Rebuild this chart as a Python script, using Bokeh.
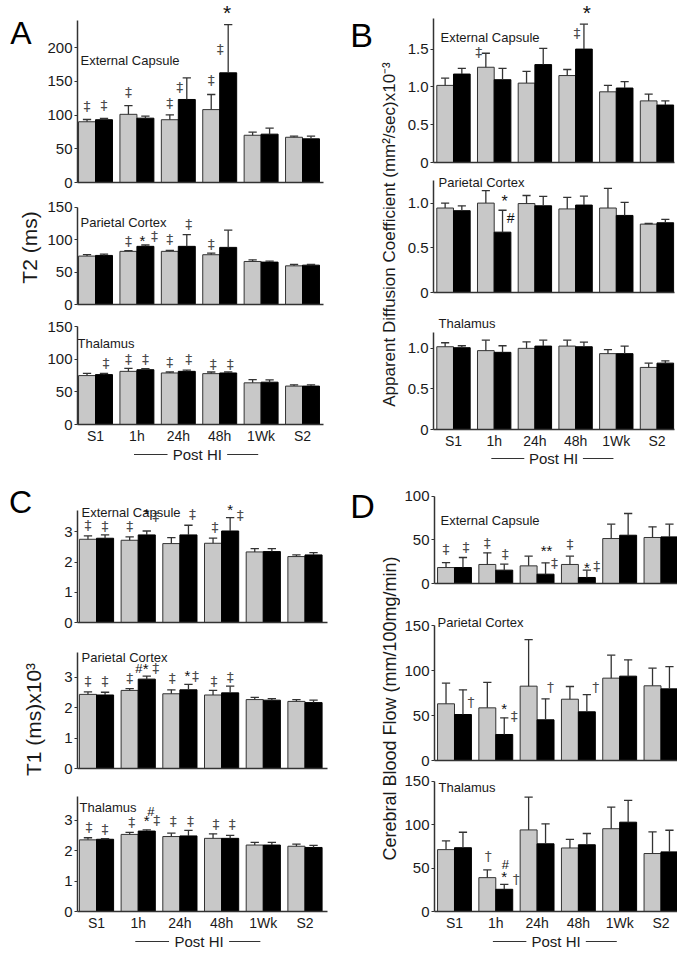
import math
from bokeh.plotting import figure
from bokeh.layouts import row, column
from bokeh.models import Range1d, FixedTicker, ColumnDataSource
from bokeh.core.properties import value, field
from bokeh.embed import file_html
from bokeh.resources import INLINE

FONT = "Liberation Sans"

groups = ["S1", "1h", "24h", "48h", "1Wk", "S2"]
post_label = "Post HI"
post_span = ("1h", "1Wk")
regions = ["External Capsule", "Parietal Cortex", "Thalamus"]

# ---------------- Panel A : T2 (ms) ----------------
a_ec_grey = [90, 101, 93, 108, 70, 67]
a_ec_grey_err = [3.3, 13, 7.2, 22.4, 4.6, 1.6]
a_ec_black = [93, 95.3, 123, 162.5, 71.6, 64.7]
a_ec_black_err = [1.8, 3, 32, 71.5, 8.9, 3.9]

a_pc_grey = [74.6, 81.9, 81.9, 76.7, 66.3, 59.6]
a_pc_grey_err = [2.1, 1.1, 1.5, 2.6, 2.6, 2.1]
a_pc_black = [75.6, 89.6, 89.6, 88, 65.3, 60.6]
a_pc_black_err = [2.1, 2.1, 18.2, 26.5, 1.5, 1.1]

a_th_grey = [74.9, 81.4, 78.9, 77.9, 63.8, 58.8]
a_th_grey_err = [3.5, 4.5, 1.5, 2.5, 5, 2]
a_th_black = [76.4, 83.9, 81.4, 78.9, 64.8, 58.8]
a_th_black_err = [2, 1.5, 2, 1.5, 3.5, 2]

# ---------------- Panel B : ADC ----------------
b_ec_grey = [1.02, 1.26, 1.05, 1.15, 0.935, 0.815]
b_ec_grey_err = [0.095, 0.185, 0.155, 0.08, 0.085, 0.09]
b_ec_black = [1.17, 1.095, 1.295, 1.50, 0.985, 0.76]
b_ec_black_err = [0.075, 0.15, 0.215, 0.33, 0.085, 0.055]

b_pc_grey = [0.945, 1.0, 0.995, 0.935, 0.945, 0.765]
b_pc_grey_err = [0.055, 0.14, 0.09, 0.13, 0.22, 0.007]
b_pc_black = [0.915, 0.675, 0.97, 0.978, 0.862, 0.78]
b_pc_black_err = [0.055, 0.245, 0.105, 0.1, 0.145, 0.037]

b_th_grey = [1.02, 0.972, 1.0, 1.028, 0.935, 0.765]
b_th_grey_err = [0.049, 0.129, 0.081, 0.073, 0.049, 0.053]
b_th_black = [1.008, 0.951, 1.028, 1.02, 0.935, 0.818]
b_th_black_err = [0.024, 0.081, 0.073, 0.057, 0.093, 0.028]

# ---------------- Panel C : T1 ----------------
c_ec_grey = [2.756, 2.723, 2.613, 2.624, 2.337, 2.183]
c_ec_grey_err = [0.11, 0.11, 0.2, 0.17, 0.11, 0.055]
c_ec_black = [2.79, 2.9, 2.9, 3.03, 2.348, 2.238]
c_ec_black_err = [0.11, 0.13, 0.32, 0.44, 0.1, 0.077]

c_pc_grey = [2.43, 2.56, 2.45, 2.41, 2.26, 2.20]
c_pc_grey_err = [0.08, 0.06, 0.13, 0.15, 0.07, 0.06]
c_pc_black = [2.41, 2.93, 2.58, 2.48, 2.24, 2.16]
c_pc_black_err = [0.09, 0.10, 0.18, 0.22, 0.05, 0.08]

c_th_grey = [2.36, 2.54, 2.47, 2.41, 2.19, 2.15]
c_th_grey_err = [0.07, 0.07, 0.11, 0.15, 0.09, 0.07]
c_th_black = [2.38, 2.65, 2.49, 2.41, 2.19, 2.11]
c_th_black_err = [0.02, 0.04, 0.18, 0.10, 0.09, 0.07]

# ---------------- Panel D : CBF ----------------
d_ec_grey = [18.3, 21.8, 20.2, 21.8, 51.5, 52.7]
d_ec_grey_err = [5.7, 13.3, 11.1, 9.5, 16.4, 12.2]
d_ec_black = [18.3, 15.3, 10.7, 6.9, 55.3, 53.4]
d_ec_black_err = [11.5, 6.8, 13, 8.4, 24.9, 14.5]

d_pc_grey = [63, 58.5, 82.6, 68.1, 91.5, 83]
d_pc_grey_err = [22.9, 28.2, 51.8, 14.1, 25.5, 19.6]
d_pc_black = [51.1, 28.9, 45.2, 54.1, 93.7, 79.6]
d_pc_black_err = [27.4, 18.5, 23.3, 19.2, 18.2, 24.8]

d_th_grey = [71.3, 39, 94, 73.2, 95.4, 66.8]
d_th_grey_err = [10, 8.9, 37.8, 10, 24.9, 24.9]
d_th_black = [73.5, 25.6, 78, 76.9, 102.9, 68.7]
d_th_black_err = [17.8, 5.6, 23, 13, 25.2, 24.9]

# ---------------- tick values / labels ----------------
a_ec_ticks = [0, 50, 100, 150, 200]
a_ec_tick_labels = ["0", "50", "100", "150", "200"]
a_ticks = [0, 50, 100, 150]
a_tick_labels = ["0", "50", "100", "150"]
b_ec_ticks = [0, 0.5, 1.0, 1.5]
b_ec_tick_labels = ["0", "0.5", "1.0", "1.5"]
b_ticks = [0, 0.5, 1.0]
b_tick_labels = ["0", "0.5", "1.0"]
c_ticks = [0, 1, 2, 3]
c_tick_labels = ["0", "1", "2", "3"]
d_ec_ticks = [0, 50, 100]
d_ec_tick_labels = ["0", "50", "100"]
d_ticks = [0, 50, 100, 150]
d_tick_labels = ["0", "50", "100", "150"]

# significance marks: (group, series 0=grey 1=black, symbol, dx px, dy px above error top, [size])
a_ec_marks = [(0, 0, "‡", 0, 14), (0, 1, "‡", 0, 14), (1, 0, "‡", 0, 14), (2, 0, "‡", 0, 12),
              (2, 1, "‡", -7, -9), (3, 0, "‡", 0, 14), (3, 1, "‡", -8, -24), (3, 1, "*", -1, 12, 21)]
a_pc_marks = [(1, 0, "‡", 0, 10), (1, 1, "*", -3, 4, 15), (1, 1, "‡", 9, 9), (2, 0, "‡", 0, 11),
              (2, 1, "‡", 2, 11), (3, 0, "‡", 0, 9)]
a_th_marks = [(0, 1, "‡", 2, 10), (1, 0, "‡", 0, 10), (1, 1, "‡", 0, 10), (2, 0, "‡", 0, 10),
              (2, 1, "‡", 2, 11), (3, 0, "‡", 2, 8), (3, 1, "‡", 2, 8)]
b_ec_marks = [(1, 0, "‡", -7, 1), (3, 1, "‡", -7, -9), (3, 1, "*", 3, 12, 21)]
b_pc_marks = [(1, 1, "*", 2, 9, 16), (1, 1, "#", 8, -8, 14)]
b_th_marks = []
c_ec_marks = [(0, 0, "‡", 0, 11), (0, 1, "‡", 0, 9), (1, 0, "‡", 0, 11), (1, 1, "*", 0, 17, 15),
              (1, 1, "‡", 9, 15), (2, 1, "‡", 4, 11), (3, 0, "‡", 2, 11), (3, 1, "*", 0, 8, 15),
              (3, 1, "‡", 10, 3)]
c_pc_marks = [(0, 0, "‡", 0, 11), (0, 1, "‡", 0, 11), (1, 0, "‡", 0, 11), (1, 1, "#", -8, 8, 13),
              (1, 1, "*", -1, 8, 15), (1, 1, "‡", 9, 8), (2, 0, "‡", 1, 12), (2, 1, "*", -1, 9, 15),
              (2, 1, "‡", 7, 8), (3, 0, "‡", 1, 9), (3, 1, "‡", 0, 9)]
c_th_marks = [(0, 0, "‡", 1, 11), (0, 1, "‡", 0, 10), (1, 0, "‡", 2, 10), (1, 1, "*", 0, 9, 15),
              (1, 1, "#", 4, 19, 13), (1, 1, "‡", 10, 10), (2, 0, "‡", 2, 12), (2, 1, "‡", 2, 10),
              (3, 0, "‡", 3, 10), (3, 1, "‡", 2, 11)]
d_ec_marks = [(0, 0, "‡", 0, 14), (0, 1, "‡", 3, 10), (1, 0, "‡", 0, 10), (1, 1, "‡", 1, 10),
              (2, 1, "**", 1, 12, 15), (2, 1, "‡", 9, 0), (3, 0, "‡", 0, 12), (3, 1, "*", 0, 3, 15),
              (3, 1, "‡", 10, 4)]
d_pc_marks = [(0, 1, "†", 8, -12), (1, 1, "*", 0, 9, 15), (1, 1, "‡", 10, 2), (2, 1, "†", 5, 12),
              (3, 1, "†", 9, 8)]
d_th_marks = [(1, 0, "†", 1, 14), (1, 1, "*", 0, 8, 15), (1, 1, "#", 1, 20, 13), (1, 1, "†", 12, 6)]

# ---------------- styling ----------------
HALF = 0.205
BARW = 0.41
CAP = 0.1
GREY = "#c8c8c8"
EDGE = "#333333"
AX = "#333333"
TXT = "#1a1a1a"
MARK_GREY = "#2a2a2a"
MARK_FONT = "DejaVu Sans"


def clean(p):
    p.outline_line_color = None
    p.grid.visible = False
    p.background_fill_color = "white"
    p.border_fill_color = "white"


def bar_fig(xr, frame_l, frame_r, fig_l, fig_r, top, base, bottom, scale, bound,
            ticks, tick_labels, grey, grey_err, black, black_err, name, name_px,
            marks, show_x):
    ppu = (frame_r - frame_l) / (xr.end - xr.start)
    y_end = (base - top) / scale
    p = figure(width=fig_r - fig_l, height=bottom - top, x_range=xr,
               y_range=Range1d(0, y_end), output_backend="svg", toolbar_location=None,
               min_border_left=frame_l - fig_l, min_border_right=fig_r - frame_r,
               min_border_top=0, min_border_bottom=bottom - base)
    clean(p)
    n = len(groups)
    xg = [i - HALF for i in range(n)]
    xb = [i + HALF for i in range(n)]
    p.vbar(x=xg, top=grey, bottom=0, width=BARW, fill_color=GREY,
           line_color=EDGE, line_width=1)
    p.vbar(x=xb, top=black, bottom=0, width=BARW, fill_color="black",
           line_color="black", line_width=1)
    for xs, m, e in ((xg, grey, grey_err), (xb, black, black_err)):
        tops = [a + b for a, b in zip(m, e)]
        p.segment(x0=xs, y0=m, x1=xs, y1=tops, line_color=AX, line_width=1.3)
        p.segment(x0=[x - CAP for x in xs], y0=tops, x1=[x + CAP for x in xs], y1=tops,
                  line_color=AX, line_width=1.3)
    # region label
    nx = xr.start + (name_px[0] - frame_l) / ppu
    ny = (base - name_px[1]) / scale
    p.text(x=[nx], y=[ny], text=[name], text_font=value(FONT),
           text_font_size=value("13px"), text_color=TXT,
           text_align="left", text_baseline="middle")
    # significance marks
    if marks:
        rows = {True: dict(x=[], y=[], t=[], s=[]), False: dict(x=[], y=[], t=[], s=[])}
        for mk in marks:
            g, s, t, dx, dy = mk[:5]
            thin = t in ("‡", "†")
            size = mk[5] if len(mk) > 5 else (14 if thin else 15)
            mv = (grey, black)[s][g]
            ev = (grey_err, black_err)[s][g]
            xc = g + (HALF if s else -HALF)
            d = rows[thin]
            d["x"].append(xc + dx / ppu)
            d["y"].append(mv + ev + dy / scale)
            d["t"].append(t)
            d["s"].append("%dpx" % size)
        for thin, d in rows.items():
            if not d["x"]:
                continue
            p.text(x="x", y="y", text="t", source=ColumnDataSource(d),
                   text_font=value(MARK_FONT if thin else FONT),
                   text_font_size=field("s"),
                   text_color=MARK_GREY if thin else "#111111",
                   text_alpha=0.85 if thin else 1.0,
                   text_align="center", text_baseline="middle")
    # y axis
    ya = p.yaxis[0]
    ya.ticker = FixedTicker(ticks=ticks)
    ya.major_label_overrides = {t: l for t, l in zip(ticks, tick_labels)}
    ya.bounds = (0, bound)
    ya.axis_line_color = AX
    ya.axis_line_width = 1.5
    ya.major_tick_line_color = AX
    ya.major_tick_line_width = 1.2
    ya.major_tick_out = 3
    ya.major_tick_in = 0
    ya.minor_tick_line_color = None
    ya.major_label_standoff = 2
    ya.major_label_text_font = FONT
    ya.major_label_text_font_size = "15px"
    ya.major_label_text_color = TXT
    # x axis
    xa = p.xaxis[0]
    xa.ticker = FixedTicker(ticks=list(range(n)) if show_x else [])
    xa.major_label_overrides = {i: g for i, g in enumerate(groups)}
    xa.major_tick_line_color = None
    xa.major_tick_out = 0
    xa.major_tick_in = 0
    xa.minor_tick_line_color = None
    xa.axis_line_color = AX
    xa.axis_line_width = 1.5
    xa.major_label_standoff = 3
    xa.major_label_text_font = FONT
    xa.major_label_text_font_size = "14px"
    xa.major_label_text_color = TXT
    return p


def strip_fig(x0, x1, y0, y1, letter, letter_xy, letter_size, ylabel, ylabel_xy, ylabel_size):
    p = figure(width=x1 - x0, height=y1 - y0, x_range=Range1d(x0, x1),
               y_range=Range1d(y1, y0), output_backend="svg", toolbar_location=None,
               min_border_left=0, min_border_right=0, min_border_top=0, min_border_bottom=0,
               x_axis_location=None, y_axis_location=None)
    clean(p)
    p.text(x=[letter_xy[0]], y=[letter_xy[1]], text=[letter], text_font=value(FONT),
           text_font_size=value("%dpx" % letter_size), text_color="black",
           text_align="center", text_baseline="middle")
    p.text(x=[ylabel_xy[0]], y=[ylabel_xy[1]], text=[ylabel], angle=math.pi / 2,
           text_font=value(FONT), text_font_size=value("%dpx" % ylabel_size),
           text_color=TXT, text_align="center", text_baseline="middle")
    return p


def post_fig(xr, frame_l, frame_r, fig_l, fig_r, y0, y1, yc):
    p = figure(width=fig_r - fig_l, height=y1 - y0, x_range=xr, y_range=Range1d(y1, y0),
               output_backend="svg", toolbar_location=None,
               min_border_left=frame_l - fig_l, min_border_right=fig_r - frame_r,
               min_border_top=0, min_border_bottom=0,
               x_axis_location=None, y_axis_location=None)
    clean(p)
    g0 = groups.index(post_span[0])
    g1 = groups.index(post_span[1])
    mid = (g0 + g1) / 2.0
    half_txt = 0.72
    p.text(x=[mid - 0.04], y=[yc], text=[post_label], text_font=value(FONT),
           text_font_size=value("15px"), text_color=TXT,
           text_align="center", text_baseline="middle")
    p.segment(x0=[g0 - 0.07, mid + half_txt - 0.04], y0=[yc, yc],
              x1=[mid - half_txt - 0.04, g1 - 0.07], y1=[yc, yc],
              line_color=AX, line_width=1)
    return p


def panel(fig_l, fig_r, frame_l, frame_r, x_start, x_end, strip_spec, subs, post_spec):
    xr = Range1d(x_start, x_end)
    figs = []
    for i, s in enumerate(subs):
        figs.append(bar_fig(xr, frame_l, frame_r, fig_l, fig_r, *s, show_x=(i == 2)))
    figs.append(post_fig(xr, frame_l, frame_r, fig_l, fig_r, *post_spec))
    return row(strip_fig(*strip_spec), column(*figs))


# Panel A
pA = panel(44, 340, 77, 323, -0.435, 5.507,
           (0, 44, 0, 470, "A", (20.5, 32), 32, "T2 (ms)", (29, 247), 21),
           [(0, 182, 190, 0.675, 240, a_ec_ticks, a_ec_tick_labels,
             a_ec_grey, a_ec_grey_err, a_ec_black, a_ec_black_err, regions[0], (80, 60), a_ec_marks),
            (190, 304, 315, 0.649, 150, a_ticks, a_tick_labels,
             a_pc_grey, a_pc_grey_err, a_pc_black, a_pc_black_err, regions[1], (80, 222), a_pc_marks),
            (315, 426, 446, 0.665, 150, a_ticks, a_tick_labels,
             a_th_grey, a_th_grey_err, a_th_black, a_th_black_err, regions[2], (77, 344), a_th_marks)],
           (446, 470, 454))

# Panel B
pB = panel(400, 677, 433, 674, -0.491, 5.43,
           (340, 400, 0, 470, "B", (361, 34), 34,
            "Apparent Diffusion Coefficient (mm²/sec)x10⁻³", (389, 234), 17),
           [(0, 162, 170, 75.6, 1.9, b_ec_ticks, b_ec_tick_labels,
             b_ec_grey, b_ec_grey_err, b_ec_black, b_ec_black_err, regions[0], (440, 37), b_ec_marks),
            (170, 292, 300, 89.4, 1.25, b_ticks, b_tick_labels,
             b_pc_grey, b_pc_grey_err, b_pc_black, b_pc_black_err, regions[1], (438, 182), b_pc_marks),
            (300, 431, 451, 82.4, 1.2, b_ticks, b_tick_labels,
             b_th_grey, b_th_grey_err, b_th_black, b_th_black_err, regions[2], (438, 323), b_th_marks)],
           (451, 470, 458))

# Panel C
pC = panel(46, 340, 77, 327, -0.456, 5.54,
           (0, 46, 470, 949, "C", (20, 501), 32, "T1 (ms)x10³", (33, 719), 21),
           [(470, 622, 630, 30.2, 3.72, c_ticks, c_tick_labels,
             c_ec_grey, c_ec_grey_err, c_ec_black, c_ec_black_err, regions[0], (81, 512), c_ec_marks),
            (630, 768, 776, 30.5, 3.8, c_ticks, c_tick_labels,
             c_pc_grey, c_pc_grey_err, c_pc_black, c_pc_black_err, regions[1], (81, 657), c_pc_marks),
            (776, 913, 933, 30.8, 3.8, c_ticks, c_tick_labels,
             c_th_grey, c_th_grey_err, c_th_black, c_th_black_err, regions[2], (79, 807), c_th_marks)],
           (933, 949, 941))

# Panel D
pD = panel(400, 677, 434, 677, -0.484, 5.4,
           (340, 400, 470, 949, "D", (362, 505), 34,
            "Cerebral Blood Flow (mm/100mg/min)", (389, 708), 18),
           [(470, 583, 600, 0.873, 100, d_ec_ticks, d_ec_tick_labels,
             d_ec_grey, d_ec_grey_err, d_ec_black, d_ec_black_err, regions[0], (440, 520), d_ec_marks),
            (600, 760, 768, 0.9, 150, d_ticks, d_tick_labels,
             d_pc_grey, d_pc_grey_err, d_pc_black, d_pc_black_err, regions[1], (437, 622), d_pc_marks),
            (768, 913, 933, 0.88, 150, d_ticks, d_tick_labels,
             d_th_grey, d_th_grey_err, d_th_black, d_th_black_err, regions[2], (438, 787), d_th_marks)],
           (933, 949, 941))

layout = column(row(pA, pB), row(pC, pD))

with open("out.html", "w") as f:
    f.write(file_html(layout, INLINE))
